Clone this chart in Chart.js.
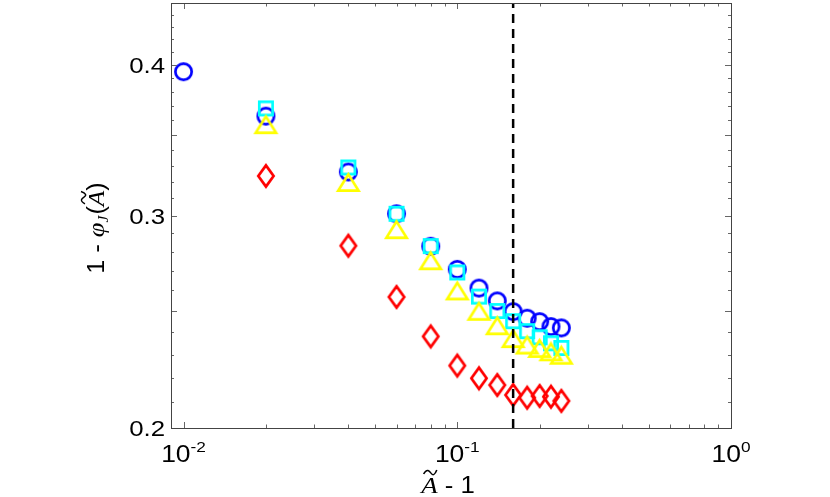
<!DOCTYPE html>
<html>
<head>
<meta charset="utf-8">
<script src="https://cdn.jsdelivr.net/npm/chart.js@4"></script>
<style>
  html, body { margin: 0; padding: 0; background: #fff; }
  #wrap { width: 830px; height: 497px; position: relative; }
</style>
</head>
<body>
<div id="wrap"><canvas id="phiChart"></canvas></div>
<script>
// x values (A~ - 1)
const xVals = [0.01, 0.02, 0.04, 0.06, 0.08, 0.1, 0.12, 0.14, 0.16, 0.18, 0.2, 0.22, 0.24];

// 1 - phi_J for each series
const blueCircles = [0.3947, 0.3626, 0.3260, 0.3010, 0.2829, 0.2707, 0.2612, 0.2549, 0.2497, 0.2466, 0.2450, 0.2427, 0.2421];
const cyanSquares = [null, 0.3680, 0.3288, 0.3010, 0.2830, 0.2691, 0.2570, 0.2500, 0.2452, 0.2406, 0.2378, 0.2351, 0.2330];
const yellowTriangles = [null, 0.3568, 0.3195, 0.2920, 0.2752, 0.2598, 0.2499, 0.2431, 0.2372, 0.2343, 0.2328, 0.2313, 0.2298];
const redDiamonds = [null, 0.3235, 0.2832, 0.2568, 0.2382, 0.2253, 0.2199, 0.2171, 0.2130, 0.2119, 0.2126, 0.2123, 0.2106];

// dashed reference line position
const dashX = 0.16;

// axis ranges and tick labels
const xRange = [0.009, 1];
const yRange = [0.2, 0.45];
const xTickExps = [-2, -1, 0];
const yTickLabels = [0.2, 0.3, 0.4];

const SANS = '"Liberation Sans", Arial, sans-serif';
const SERIF = '"Liberation Serif", serif';

// build marker sprites so shapes match the original figure
function makeMarker(shape, color, w, h, lw) {
    const c = document.createElement('canvas');
    c.width = Math.ceil(w + lw * 2);
    c.height = Math.ceil(h + lw * 2);
    const g = c.getContext('2d');
    g.strokeStyle = color;
    g.lineWidth = lw;
    g.lineJoin = 'miter';
    const cx = c.width / 2, cy = c.height / 2;
    g.beginPath();
    if (shape === 'circle') {
        g.arc(cx, cy, w / 2 - lw / 2, 0, Math.PI * 2);
    } else if (shape === 'square') {
        g.rect(cx - w / 2 + lw / 2, cy - h / 2 + lw / 2, w - lw, h - lw);
    } else if (shape === 'triangle') {
        g.moveTo(cx, cy - h / 2 + lw / 2);
        g.lineTo(cx + w / 2 - lw / 2, cy + h / 2 - lw / 2);
        g.lineTo(cx - w / 2 + lw / 2, cy + h / 2 - lw / 2);
        g.closePath();
    } else if (shape === 'diamond') {
        g.moveTo(cx, cy - h / 2 + lw / 2);
        g.lineTo(cx + w / 2 - lw / 2, cy);
        g.lineTo(cx, cy + h / 2 - lw / 2);
        g.lineTo(cx - w / 2 + lw / 2, cy);
        g.closePath();
    }
    g.stroke();
    return c;
}

const markers = {
    circle: makeMarker('circle', '#0000ff', 19, 19, 2.7),
    square: makeMarker('square', '#00ffff', 16, 16, 2.7),
    triangle: makeMarker('triangle', '#ffff00', 23, 19, 2.7),
    diamond: makeMarker('diamond', '#ff0000', 18, 24, 2.7)
};

function toPoints(values) {
    return xVals.map((x, i) => ({ x: x, y: values[i] })).filter(p => p.y !== null);
}

// draw a run of text pieces (different fonts / baseline shifts), stretched by sx
function drawRich(ctx, pieces, x, y, align, sx) {
    sx = sx || 1;
    let total = 0;
    pieces.forEach(p => { ctx.font = p.font; p.w = ctx.measureText(p.t).width; total += p.w + (p.gap || 0); });
    ctx.save();
    ctx.translate(x, y);
    ctx.scale(sx, 1);
    let cx = align === 'center' ? -total / 2 : 0;
    ctx.textAlign = 'left';
    ctx.textBaseline = 'alphabetic';
    pieces.forEach(p => {
        ctx.font = p.font;
        ctx.fillText(p.t, cx, p.dy || 0);
        if (p.tilde) {
            ctx.save();
            ctx.lineWidth = 1.4;
            ctx.strokeStyle = ctx.fillStyle;
            const tx = cx + p.w * 0.15, tw = p.w * 0.8, ty = -p.th;
            ctx.beginPath();
            ctx.moveTo(tx, ty + 2);
            ctx.bezierCurveTo(tx + tw * 0.25, ty - 4, tx + tw * 0.45, ty - 1, tx + tw * 0.55, ty + 1);
            ctx.bezierCurveTo(tx + tw * 0.7, ty + 4, tx + tw * 0.85, ty + 3, tx + tw, ty - 2);
            ctx.stroke();
            ctx.restore();
        }
        cx += p.w + (p.gap || 0);
    });
    ctx.restore();
}

// frame, inward ticks, tick labels and axis titles
const axesPlugin = {
    id: 'matlabAxes',
    afterDraw(chart) {
        const ctx = chart.ctx;
        const a = chart.chartArea;
        const xs = chart.scales.x, ys = chart.scales.y;
        ctx.save();

        // ticks
        ctx.strokeStyle = '#666';
        ctx.lineWidth = 1;
        ctx.beginPath();
        for (let d = -3; d <= 0; d++) {
            for (let k = 1; k <= 9; k++) {
                const v = k * Math.pow(10, d);
                if (v < xRange[0] - 1e-9 || v > xRange[1] + 1e-9) continue;
                const px = Math.round(xs.getPixelForValue(v)) + 0.5;
                const len = k === 1 ? 6 : 3.5;
                ctx.moveTo(px, a.bottom); ctx.lineTo(px, a.bottom - len);
                ctx.moveTo(px, a.top); ctx.lineTo(px, a.top + len);
            }
        }
        for (let i = 20; i <= 45; i++) {
            const v = i / 100;
            const py = Math.round(ys.getPixelForValue(v)) + 0.5;
            const len = i % 5 === 0 ? 6 : 3;
            ctx.moveTo(a.left, py); ctx.lineTo(a.left + len, py);
            ctx.moveTo(a.right, py); ctx.lineTo(a.right - len, py);
        }
        ctx.stroke();

        // frame
        ctx.strokeStyle = '#444';
        ctx.strokeRect(Math.round(a.left) + 0.5, Math.round(a.top) + 0.5,
            Math.round(a.right - a.left), Math.round(a.bottom - a.top));

        // y tick labels
        ctx.fillStyle = '#000';
        yTickLabels.forEach(v => {
            ctx.save();
            ctx.translate(a.left - 6, ys.getPixelForValue(v) + 2.5);
            ctx.scale(1.2, 1);
            ctx.font = '21.5px ' + SANS;
            ctx.textAlign = 'right';
            ctx.textBaseline = 'middle';
            ctx.fillText(v.toFixed(1), 0, 0);
            ctx.restore();
        });

        // x tick labels 10^n
        xTickExps.forEach(e => {
            const px = xs.getPixelForValue(Math.pow(10, e));
            drawRich(ctx, [
                { t: '10', font: '23px ' + SANS },
                { t: e === 0 ? '0' : '-' + Math.abs(e), font: '15px ' + SANS, dy: -10 }
            ], px, a.bottom + 34, 'center', 1.15);
        });

        // x title
        drawRich(ctx, [
            { t: 'A', font: 'italic 24px ' + SERIF, tilde: true, th: 21 },
            { t: ' - 1', font: '23px ' + SANS }
        ], 448, 493, 'center', 1.12);

        // y title (rotated)
        ctx.translate(104, 228);
        ctx.rotate(-Math.PI / 2);
        drawRich(ctx, [
            { t: '1 - ', font: '23px ' + SANS },
            { t: 'φ', font: 'italic 24px ' + SERIF },
            { t: 'J', font: 'italic 14px ' + SERIF, dy: 4, gap: 1 },
            { t: '(', font: '23px ' + SANS },
            { t: 'A', font: 'italic 23px ' + SERIF, tilde: true, th: 21 },
            { t: ')', font: '23px ' + SANS }
        ], 0, 0, 'center', 1.1);

        ctx.restore();
    }
};

const ctx = document.getElementById('phiChart').getContext('2d');
new Chart(ctx, {
    type: 'scatter',
    data: {
        datasets: [
            {
                label: 'dash',
                type: 'line',
                data: [{ x: dashX, y: yRange[0] }, { x: dashX, y: yRange[1] }],
                borderColor: '#000',
                borderWidth: 2.5,
                borderDash: [9, 6],
                pointRadius: 0,
                fill: false
            },
            {
                label: 'triangles',
                data: toPoints(yellowTriangles),
                pointStyle: markers.triangle,
                pointRadius: 10
            },
            {
                label: 'squares',
                data: toPoints(cyanSquares),
                pointStyle: markers.square,
                pointRadius: 10
            },
            {
                label: 'circles',
                data: toPoints(blueCircles),
                pointStyle: markers.circle,
                pointRadius: 10
            },
            {
                label: 'diamonds',
                data: toPoints(redDiamonds),
                pointStyle: markers.diamond,
                pointRadius: 10
            }
        ]
    },
    options: {
        responsive: true,
        maintainAspectRatio: false,
        animation: false,
        layout: {
            autoPadding: false,
            padding: { left: 171, right: 99, top: 3, bottom: 69 }
        },
        plugins: {
            legend: { display: false },
            tooltip: { enabled: false }
        },
        scales: {
            x: {
                type: 'logarithmic',
                min: xRange[0],
                max: xRange[1],
                display: false
            },
            y: {
                type: 'logarithmic',
                min: yRange[0],
                max: yRange[1],
                display: false
            }
        }
    },
    plugins: [axesPlugin]
});
</script>
</body>
</html>
